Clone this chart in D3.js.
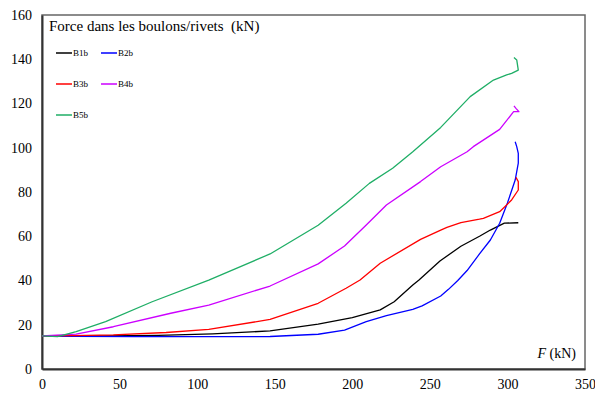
<!DOCTYPE html>
<html>
<head>
<meta charset="utf-8">
<script src="https://cdn.jsdelivr.net/npm/d3@7"></script>
<style>
  html, body { margin: 0; padding: 0; background: #fff; }
</style>
</head>
<body>
<div id="chart"></div>
<script>
// Force in bolts/rivets vs applied force F, one series per bolt
const seriesNames = ['B1b', 'B2b', 'B3b', 'B4b', 'B5b'];
const seriesColors = ['#000000', '#0000ff', '#ff0000', '#cc00ff', '#1fae66'];

const b1b = [[0,15],[40,15],[75,15.2],[110,15.9],[147,17.2],[178,20.3],[200,23.2],[218,26.7],[227,30.4],[239,38],[243,40.2],[256.5,48.8],[270,55.5],[282,60],[289,62.8],[298,65.9],[307,66.1]];
const b2b = [[0,15],[20,14.8],[60,14.6],[110,14.6],[147,14.7],[178,15.7],[195,17.6],[209,21.4],[222,24.1],[239,27],[245,28.5],[257,33],[262,36],[268,40],[274,44.5],[282,52],[289,58.3],[295,65.9],[300,75],[305,85.4],[307,93],[307,97.5],[306,100.5],[305,102.7]];
const b3b = [[0,15],[20,15.1],[46,15.4],[80,16.5],[107.5,17.9],[147,22.4],[178,29.7],[196,36.5],[205,40.2],[218,47.8],[244,58.6],[257,62.8],[261,64],[270,66.2],[282,67.7],[284.5,68.1],[295,71.1],[302.7,76.4],[307,80.9],[307,84.7],[305.5,86.6]];
const b4b = [[0,15],[22,15.8],[46,19.1],[83,25.2],[107.5,28.9],[147,37.5],[178,47.5],[195,55.6],[209,65.1],[222,74.1],[244,84.7],[257,91.4],[274,98.2],[278,100.5],[295,108.3],[304,116.3],[307.4,116.3],[305.5,117.8],[304.2,118.9]];
const b5b = [[0,15],[10,14.6],[22,16.9],[41,21.4],[71,30.4],[107.5,40.2],[147,52],[178,65],[196,74.9],[211,83.9],[226,90.7],[239,98.2],[257,109.2],[276,123.1],[291,130.6],[299.5,132.9],[302.7,133.6],[307,135.1],[306,139.7],[304.2,140.8]];
const seriesValues = [b1b, b2b, b3b, b4b, b5b];

const xTicks = [0, 50, 100, 150, 200, 250, 300, 350];
const yTicks = [0, 20, 40, 60, 80, 100, 120, 140, 160];

const width = 595, height = 396;
const plot = { left: 42, right: 585, top: 15, bottom: 369 };
const serif = 'Liberation Serif';

const svg = d3.select('#chart').append('svg')
  .attr('width', width)
  .attr('height', height);

const x = d3.scaleLinear().domain([0, 350]).range([plot.left, plot.right]);
const y = d3.scaleLinear().domain([0, 160]).range([plot.bottom, plot.top]);

// frame
svg.append('rect')
  .attr('x', plot.left).attr('y', plot.top)
  .attr('width', plot.right - plot.left).attr('height', plot.bottom - plot.top)
  .attr('fill', 'none').attr('stroke', '#666').attr('stroke-width', 1.5);

// axes (labels only, no tick marks)
const xAxis = svg.append('g')
  .attr('transform', `translate(0,${plot.bottom})`)
  .call(d3.axisBottom(x).tickValues(xTicks).tickSize(0).tickPadding(10));
const yAxis = svg.append('g')
  .attr('transform', `translate(${plot.left},0)`)
  .call(d3.axisLeft(y).tickValues(yTicks).tickSize(0).tickPadding(10));
[xAxis, yAxis].forEach((a) => {
  a.attr('font-family', serif).attr('font-size', 14);
  a.select('.domain').attr('stroke', '#333').attr('stroke-width', 2);
  a.selectAll('text').attr('fill', '#000');
});

// series
const line = d3.line()
  .x((d) => x(d[0]))
  .y((d) => y(d[1]));

svg.append('g').selectAll('path')
  .data(seriesValues)
  .enter()
  .append('path')
  .attr('d', line)
  .attr('fill', 'none')
  .attr('stroke', (d, i) => seriesColors[i])
  .attr('stroke-width', 1.3)
  .attr('stroke-linejoin', 'round');

// title inside plot
svg.append('text')
  .attr('x', 49).attr('y', 31)
  .attr('font-family', serif).attr('font-size', 15)
  .attr('xml:space', 'preserve')
  .style('white-space', 'pre')
  .text('Force dans les boulons/rivets  (kN)');

// x label
const xl = svg.append('text')
  .attr('x', 576).attr('y', 358)
  .attr('text-anchor', 'end')
  .attr('font-family', serif).attr('font-size', 14);
xl.append('tspan').attr('font-style', 'italic').text('F');
xl.append('tspan').text(' (kN)');

// legend
const legendPos = [[56, 53], [101, 53], [56, 84], [101, 84], [56, 115]];
const legend = svg.append('g').selectAll('g')
  .data(seriesNames)
  .enter()
  .append('g')
  .attr('transform', (d, i) => `translate(${legendPos[i][0]},${legendPos[i][1]})`);
legend.append('line')
  .attr('x1', 0).attr('x2', 16)
  .attr('stroke', (d, i) => seriesColors[i])
  .attr('stroke-width', 1.5);
legend.append('text')
  .attr('x', 17).attr('y', 3)
  .attr('font-family', serif).attr('font-size', 9)
  .text((d) => d);
</script>
</body>
</html>
